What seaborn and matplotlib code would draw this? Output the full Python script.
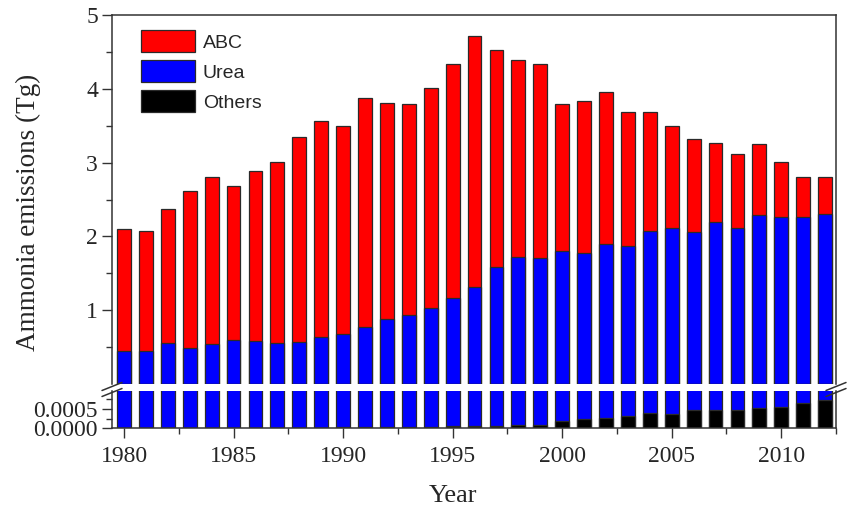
import numpy as np
import pandas as pd
import matplotlib
matplotlib.use("Agg")
import matplotlib.pyplot as plt
import seaborn as sns
from matplotlib.ticker import MultipleLocator, FormatStrFormatter

years = list(range(1980, 2013))
total = [2.10, 2.08, 2.37, 2.62, 2.81, 2.69, 2.88, 3.01, 3.35, 3.56, 3.49,
         3.88, 3.81, 3.80, 4.01, 4.33, 4.72, 4.53, 4.39, 4.33, 3.80,
         3.84, 3.96, 3.69, 3.69, 3.49, 3.32, 3.26, 3.11, 3.25, 3.01,
         2.81, 2.81]
urea = [0.45, 0.45, 0.55, 0.49, 0.54, 0.60, 0.59, 0.55, 0.57, 0.64, 0.68,
        0.77, 0.88, 0.94, 1.03, 1.16, 1.31, 1.58, 1.72, 1.71, 1.80,
        1.78, 1.90, 1.87, 2.07, 2.12, 2.06, 2.19, 2.12, 2.29, 2.26,
        2.26, 2.31]
others = [0.00002, 0.00002, 0.00002, 0.00002, 0.00002, 0.00002, 0.00002,
          0.00002, 0.00002, 0.00002, 0.00003, 0.00003, 0.00003, 0.00003,
          0.00004, 0.00005, 0.00006, 0.00006, 0.00009, 0.00009, 0.00019,
          0.00025, 0.00028, 0.00032, 0.00041, 0.00036, 0.00047, 0.00047,
          0.00047, 0.00052, 0.00056, 0.00066, 0.00073]
abc = [t - u for t, u in zip(total, urea)]

df = pd.DataFrame({"Year": years, "ABC": abc, "Urea": urea, "Others": others})
df["UreaTop"] = df["Urea"] + df["Others"]
df["Total"] = df["ABC"] + df["UreaTop"]

sns.set_theme(style="white")
plt.rcParams["font.family"] = ["Liberation Serif", "DejaVu Serif"]

W, H = 847, 508
fig = plt.figure(figsize=(W / 100, H / 100), dpi=100)
left, right = 112 / W, 836 / W
ax_top = fig.add_axes([left, 1 - 384 / H, right - left, (384 - 15) / H])
ax_bot = fig.add_axes([left, 1 - 428.3 / H, right - left, (428.3 - 391) / H])

RED, BLUE, BLACK = "#ff0000", "#0000ff", "#000000"
EDGE = "#2a2a2a"
bw = 0.63
kw = dict(native_scale=True, width=bw, edgecolor=EDGE, linewidth=0.9,
          saturation=1, errorbar=None)

# top panel
sns.barplot(data=df, x="Year", y="Total", color=RED, ax=ax_top, label="ABC", **kw)
sns.barplot(data=df, x="Year", y="UreaTop", color=BLUE, ax=ax_top, label="Urea", **kw)
sns.barplot(data=df, x="Year", y="Others", color=BLACK, ax=ax_top, label="Others", **kw)

# bottom panel
sns.barplot(data=df, x="Year", y="UreaTop", color=BLUE, ax=ax_bot, **kw)
sns.barplot(data=df, x="Year", y="Others", color=BLACK, ax=ax_bot, **kw)

for ax in (ax_top, ax_bot):
    ax.set_xlim(1979.45, 2012.5)
    ax.set_xlabel("")
    ax.set_ylabel("")
    for s in ax.spines.values():
        s.set_color("#333333")
        s.set_linewidth(1.1)
    ax.tick_params(axis="both", which="both", direction="out", color="#333333",
                   labelsize=17, left=True, bottom=True, right=False, top=False)
    ax.tick_params(axis="y", which="major", length=7, width=1.0, pad=3)
    ax.tick_params(axis="y", which="minor", length=4, width=1.0)
    ax.grid(False)

ax_top.set_ylim(0.001, 5)
ax_top.yaxis.set_major_locator(MultipleLocator(1))
ax_top.yaxis.set_minor_locator(MultipleLocator(0.5))
ax_top.set_yticks([1, 2, 3, 4, 5])
ax_top.spines["bottom"].set_visible(False)
ax_top.tick_params(axis="x", which="both", bottom=False, labelbottom=False)

ax_bot.set_ylim(0, 0.00097)
ax_bot.set_yticks([0, 0.0005])
ax_bot.yaxis.set_major_formatter(FormatStrFormatter("%.4f"))
ax_bot.yaxis.set_minor_locator(MultipleLocator(0.00025))
ax_bot.spines["top"].set_visible(False)
ax_bot.set_xticks([1980, 1985, 1990, 1995, 2000, 2005, 2010])
ax_bot.set_xticklabels(["1980", "1985", "1990", "1995", "2000", "2005", "2010"])
ax_bot.xaxis.set_minor_locator(MultipleLocator(2.5))
ax_bot.tick_params(axis="x", which="major", length=7, width=1.0, pad=6)
ax_bot.tick_params(axis="x", which="minor", length=4, width=1.0)
ax_bot.yaxis.get_offset_text().set_visible(False)

# break marks
for xf in (112, 836):
    for yc in (386.5, 392.5):
        fig.add_artist(plt.Line2D([(xf - 10) / W, (xf + 10) / W],
                                  [1 - (yc + 4) / H, 1 - (yc - 4) / H],
                                  color="#333333", lw=1.1))

# legend
leg = ax_top.legend(loc="upper left", bbox_to_anchor=(0.03, 0.98), frameon=False,
                    prop={"family": "Liberation Sans", "size": 14},
                    handlelength=2.75, handleheight=1.35, labelspacing=0.42,
                    handletextpad=0.4, borderaxespad=0)

fig.text(28 / W, 1 - 212 / H, "Ammonia emissions (Tg)", rotation=90,
         ha="center", va="center", fontsize=19.5)
fig.text(453 / W, 1 - 496 / H, "Year", ha="center", va="center", fontsize=19)

fig.savefig("out.png", dpi=100)
